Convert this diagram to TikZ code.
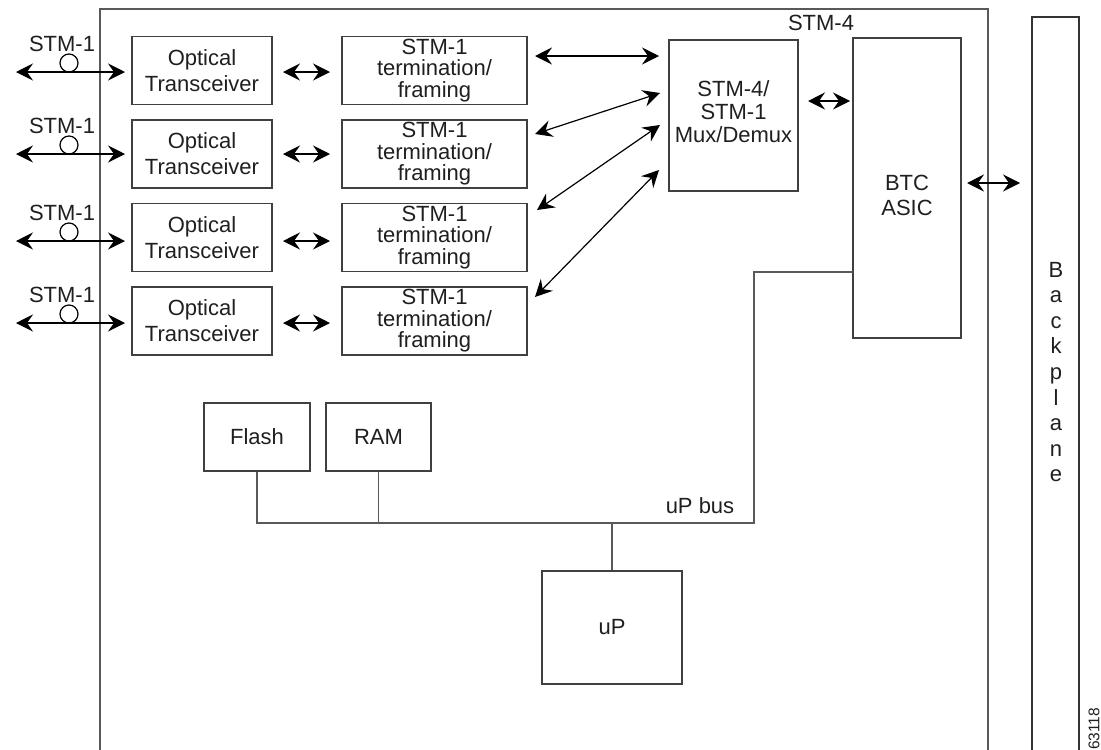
\documentclass[tikz,border=0pt]{standalone}
\usepackage{fontspec}
\setmainfont{Liberation Sans}
\usetikzlibrary{arrows.meta}
\begin{document}
\begin{tikzpicture}[x=1pt,y=-1pt,
  box/.style={draw=black!75, line width=1.3pt, inner sep=0pt, align=center,
    font=\fontsize{22}{26}\selectfont, text=black!88},
  lnk/.style={line width=1.2pt,
    {Stealth[length=17pt,width=17pt,inset=6pt]}-{Stealth[length=17pt,width=17pt,inset=6pt]}},
  wire/.style={draw=black!65, line width=1.3pt},
  lbl/.style={font=\fontsize{22}{26}\selectfont, inner sep=0pt, text=black!88, align=center},
  ring/.style={circle, draw=black, line width=1.2pt, minimum size=18pt, inner sep=0pt}]

\useasboundingbox (0,0) rectangle (1101,750);

% board and backplane
\draw[wire] (100,752) -- (100,9) -- (988,9) -- (988,752);
\draw[draw=black!80, line width=1.3pt] (1032,752) -- (1032,17) -- (1079,17) -- (1079,752);
\node[lbl, font=\fontsize{22}{25.6}\selectfont] (bp) at (1056,372) {B\\a\\c\\k\\p\\l\\a\\n\\e};
\node[lbl, font=\fontsize{15.5}{18}\selectfont, rotate=90, anchor=west] (fig) at (1094,750) {63118};
\node[lbl] (stm4) at (821,23) {STM-4};

% optical transceivers and framers
\foreach \i/\y in {1/70.5, 2/154, 3/237.5, 4/321} {
  \node[box, minimum width=140pt, minimum height=68pt, font=\fontsize{22}{26}\selectfont] (ot\i) at (202,\y) {Optical\\Transceiver};
  \node[box, minimum width=185pt, minimum height=68pt, font=\fontsize{22}{21.5}\selectfont] (fr\i) at (434.5,\y) {STM-1\\termination/\\framing};
}

% external STM-1 links
\foreach \i/\y in {1/72, 2/154, 3/241, 4/323} {
  \coordinate (ext\i) at (16,\y);
  \coordinate (otin\i) at (125,\y);
  \draw[lnk] (ext\i) -- (otin\i);
  \node[ring] (ring\i) at (69,\y-9) {};
  \node[lbl] (stml\i) at (62,\y-28) {STM-1};
  \coordinate (ota\i) at (283,\y);
  \coordinate (frb\i) at (330,\y);
  \draw[lnk] (ota\i) -- (frb\i);
}

% mux
\node[box, minimum width=129pt, minimum height=151pt] (mux) at (733.5,115.5) {};
\node[lbl, font=\fontsize{22}{23}\selectfont] (muxt) at (733.5,112) {STM-4/\\STM-1\\Mux/Demux};

\coordinate (fo1) at (535,56);  \coordinate (mi1) at (659,56);
\coordinate (fo2) at (535,134); \coordinate (mi2) at (660,93);
\coordinate (fo3) at (537,210); \coordinate (mi3) at (660,125);
\coordinate (fo4) at (535,297); \coordinate (mi4) at (659,170);
\foreach \i in {1,2,3,4} { \draw[lnk] (fo\i) -- (mi\i); }

% BTC ASIC
\node[box, minimum width=108pt, minimum height=300pt] (asic) at (907,188) {};
\node[lbl, font=\fontsize{22}{25}\selectfont] (asict) at (907,195.5) {BTC\\ASIC};

\coordinate (mo) at (808,101); \coordinate (ai) at (850,101);
\draw[lnk] (mo) -- (ai);
\coordinate (ao) at (967,183); \coordinate (bpi) at (1020,183);
\draw[lnk] (ao) -- (bpi);

% memory and processor
\node[box, minimum width=106pt, minimum height=68pt] (flash) at (257,437) {Flash};
\node[box, minimum width=105pt, minimum height=68pt] (ram) at (378.5,437) {\raisebox{-3pt}{RAM}};
\node[box, minimum width=140pt, minimum height=113pt] (up) at (612,627.5) {uP};

\coordinate (busR) at (754,523);
\coordinate (asicIn) at (853,272);
\draw[wire] (flash.south) |- (busR) |- (asicIn);
\draw[wire] (ram.south) -- (ram.south |- busR);
\draw[wire] (up.north) -- (up.north |- busR);
\node[lbl] (busl) at (700,506) {uP bus};

\end{tikzpicture}
\end{document}
